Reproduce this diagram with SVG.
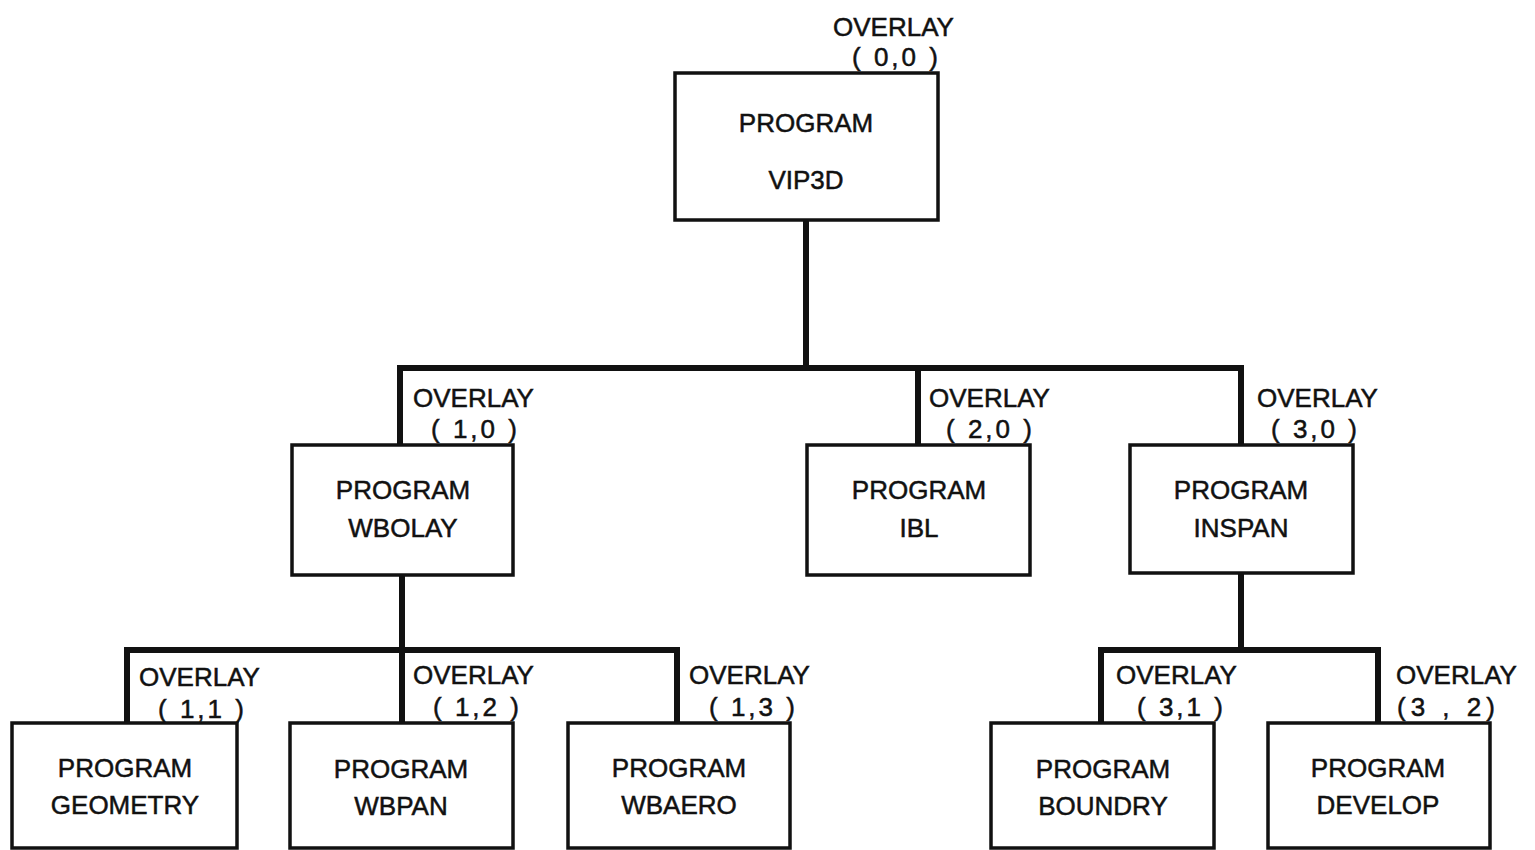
<svg xmlns="http://www.w3.org/2000/svg" width="1535" height="850" viewBox="0 0 1535 850">
<style>
  .box { fill: #fff; stroke: #111; stroke-width: 3.5; }
  .lbl { font-family: "Liberation Sans", Arial, sans-serif; font-size: 26px; fill: #111; stroke: #111; stroke-width: 0.5; }
  .c { text-anchor: middle; }
  .co { letter-spacing: 3px; }
  .conn { fill: none; stroke: #111; stroke-width: 6; stroke-linejoin: miter; stroke-linecap: square; }
</style>
<rect width="1535" height="850" fill="#fff"/>
<g id="connectors">
  <path class="conn" d="M806,220 V368"/>
  <path class="conn" d="M400,445 V368 H1241 V445"/>
  <path class="conn" d="M918,368 V445"/>
  <path class="conn" d="M402,575 V650"/>
  <path class="conn" d="M127,723 V650 H677 V723"/>
  <path class="conn" d="M402,650 V723"/>
  <path class="conn" d="M1241,573 V650"/>
  <path class="conn" d="M1101,723 V650 H1378 V723"/>
</g>
<g id="vip3d">
  <rect class="box" x="675" y="73" width="263" height="147"/>
  <text class="lbl" x="833" y="36">OVERLAY</text>
  <text class="lbl co" x="852" y="66">( 0,0 )</text>
  <text class="lbl c" x="806" y="132">PROGRAM</text>
  <text class="lbl c" x="806" y="189">VIP3D</text>
</g>
<g id="wbolay">
  <rect class="box" x="292" y="445" width="221" height="130"/>
  <text class="lbl" x="413" y="407">OVERLAY</text>
  <text class="lbl co" x="431" y="438">( 1,0 )</text>
  <text class="lbl c" x="403" y="499">PROGRAM</text>
  <text class="lbl c" x="403" y="537">WBOLAY</text>
</g>
<g id="ibl">
  <rect class="box" x="807" y="445" width="223" height="130"/>
  <text class="lbl" x="929" y="407">OVERLAY</text>
  <text class="lbl co" x="946" y="438">( 2,0 )</text>
  <text class="lbl c" x="919" y="499">PROGRAM</text>
  <text class="lbl c" x="919" y="537">IBL</text>
</g>
<g id="inspan">
  <rect class="box" x="1130" y="445" width="223" height="128"/>
  <text class="lbl" x="1257" y="407">OVERLAY</text>
  <text class="lbl co" x="1271" y="438">( 3,0 )</text>
  <text class="lbl c" x="1241" y="499">PROGRAM</text>
  <text class="lbl c" x="1241" y="537">INSPAN</text>
</g>
<g id="geometry">
  <rect class="box" x="12" y="723" width="225" height="125"/>
  <text class="lbl" x="139" y="686">OVERLAY</text>
  <text class="lbl co" x="158" y="718">( 1,1 )</text>
  <text class="lbl c" x="125" y="777">PROGRAM</text>
  <text class="lbl c" x="125" y="814">GEOMETRY</text>
</g>
<g id="wbpan">
  <rect class="box" x="290" y="723" width="223" height="125"/>
  <text class="lbl" x="413" y="684">OVERLAY</text>
  <text class="lbl co" x="433" y="716">( 1,2 )</text>
  <text class="lbl c" x="401" y="778">PROGRAM</text>
  <text class="lbl c" x="401" y="815">WBPAN</text>
</g>
<g id="wbaero">
  <rect class="box" x="568" y="723" width="222" height="125"/>
  <text class="lbl" x="689" y="684">OVERLAY</text>
  <text class="lbl co" x="709" y="716">( 1,3 )</text>
  <text class="lbl c" x="679" y="777">PROGRAM</text>
  <text class="lbl c" x="679" y="814">WBAERO</text>
</g>
<g id="boundry">
  <rect class="box" x="991" y="723" width="223" height="125"/>
  <text class="lbl" x="1116" y="684">OVERLAY</text>
  <text class="lbl co" x="1137" y="716">( 3,1 )</text>
  <text class="lbl c" x="1103" y="778">PROGRAM</text>
  <text class="lbl c" x="1103" y="815">BOUNDRY</text>
</g>
<g id="develop">
  <rect class="box" x="1268" y="723" width="222" height="125"/>
  <text class="lbl" x="1396" y="684">OVERLAY</text>
  <text class="lbl" x="1397" y="716" style="letter-spacing:5px">(3 , 2)</text>
  <text class="lbl c" x="1378" y="777">PROGRAM</text>
  <text class="lbl c" x="1378" y="814">DEVELOP</text>
</g>
</svg>
